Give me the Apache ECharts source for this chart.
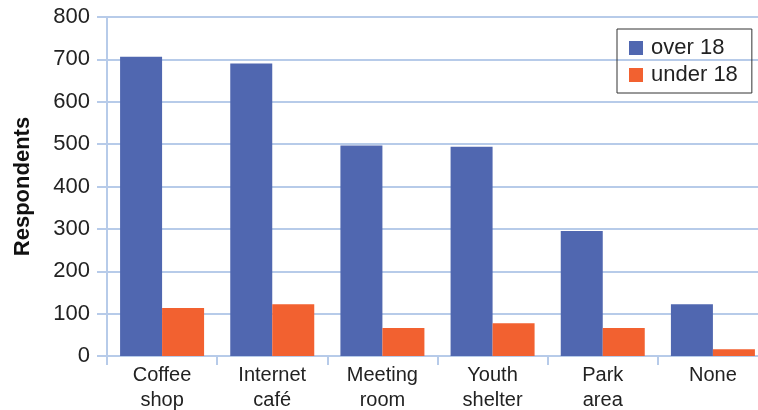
<!DOCTYPE html>
<html><head><meta charset="utf-8">
<script src="https://cdn.jsdelivr.net/npm/echarts@6/dist/echarts.min.js"></script>
<style>html,body{margin:0;padding:0;background:#fff}#c{width:758px;height:410px}</style>
</head><body><div id="c"></div>
<script>
const categories = ["Coffee\nshop", "Internet\ncafé", "Meeting\nroom", "Youth\nshelter", "Park\narea", "None"];
const over18 = [706, 690, 497, 494, 295, 122];
const under18 = [113, 122, 66, 77, 66, 16];
const yTicks = { min: 0, max: 800, interval: 100 };

const chart = echarts.init(document.getElementById('c'));
const font = 'Liberation Sans, Arial, sans-serif';
const axisColor = '#b7cbe9';
chart.setOption({
  animation: false,
  textStyle: { fontFamily: font },
  grid: { left: 107, right: -10, top: 17, bottom: 54, containLabel: false, outerBoundsMode: 'none' },
  legend: {
    left: 617, top: 29, orient: 'vertical',
    icon: 'rect',
    itemWidth: 14, itemHeight: 14, itemGap: 5,
    padding: [8, 14, 7, 12],
    borderColor: '#333', borderWidth: 1,
    textStyle: { fontSize: 22, lineHeight: 22, color: '#222', fontFamily: font, padding: [0, 0, 0, 3] },
    data: ['over 18', 'under 18']
  },
  xAxis: {
    type: 'category', data: categories,
    axisLine: { lineStyle: { color: axisColor, width: 2 } },
    axisTick: { show: true, length: 9, lineStyle: { color: axisColor, width: 2 } },
    axisLabel: { fontSize: 20, color: '#222', lineHeight: 25, margin: 7, fontFamily: font }
  },
  yAxis: {
    type: 'value', min: yTicks.min, max: yTicks.max, interval: yTicks.interval,
    name: 'Respondents', nameLocation: 'middle', nameGap: 73,
    nameTextStyle: { fontSize: 22, fontWeight: 'bold', color: '#111', fontFamily: font },
    axisLine: { show: true, lineStyle: { color: axisColor, width: 2 } },
    axisTick: { show: true, length: 10, lineStyle: { color: axisColor, width: 2 } },
    axisLabel: { fontSize: 22, color: '#222', margin: 17, fontFamily: font },
    splitLine: { lineStyle: { color: axisColor, width: 2 } }
  },
  series: [
    { name: 'over 18', type: 'bar', data: over18, barWidth: 42, barGap: '0%', itemStyle: { color: '#5067b0' } },
    { name: 'under 18', type: 'bar', data: under18, barWidth: 42, itemStyle: { color: '#f26130' } }
  ]
});
</script></body></html>
